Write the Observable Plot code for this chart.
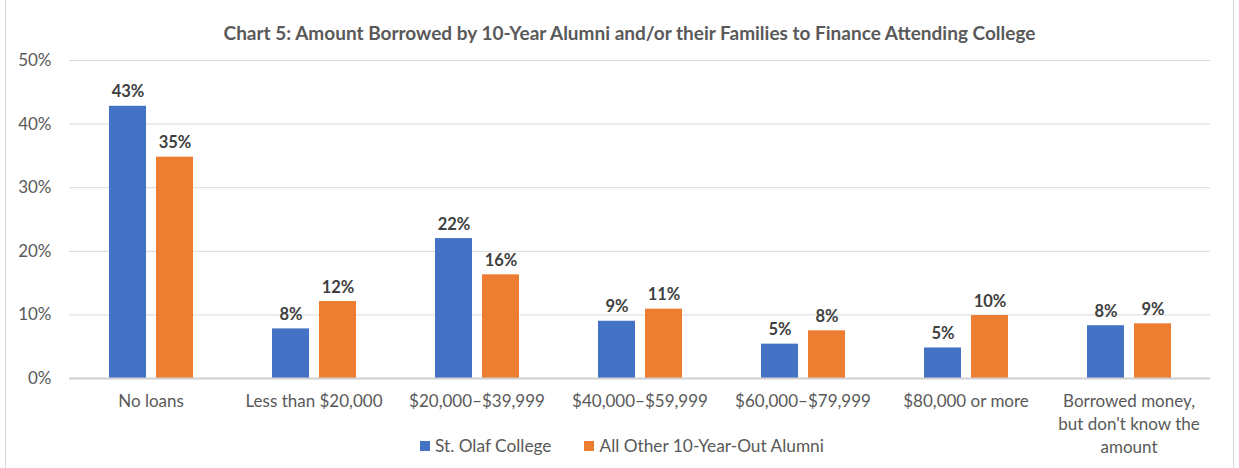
<!DOCTYPE html>
<html>
<head>
<meta charset="utf-8">
<script src="https://cdn.jsdelivr.net/npm/d3@7"></script>
<script src="https://cdn.jsdelivr.net/npm/@observablehq/plot@0.6"></script>
<style>
  html, body { margin: 0; padding: 0; background: #fff; }
  #wrap { position: relative; width: 1239px; height: 468px; overflow: hidden; font-family: Lato, "Open Sans", sans-serif; }
  #frame { position: absolute; left: 5px; top: -2px; width: 1227px; height: 480px; border-left: 1px solid #d9d9d9; border-right: 1px solid #d9d9d9; }
  #title { position: absolute; left: 10px; width: 1239px; top: 21px; text-align: center; font-weight: bold; font-size: 19px; color: #595959; }
  #chart { position: absolute; left: 0; top: 0; }
  #legend { position: absolute; top: 435px; left: 420px; font-size: 17.3px; color: #595959; display: flex; align-items: center; }
  .sw { display: inline-block; width: 10px; height: 10px; margin-right: 5px; }
  .item { display: flex; align-items: center; margin-right: 33px; }
</style>
</head>
<body>
<div id="wrap">
  <div id="frame"></div>
  <div id="chart"></div>
  <div id="title"></div>
  <div id="legend"></div>
</div>
<script>
const titleText = "Chart 5: Amount Borrowed by 10-Year Alumni and/or their Families to Finance Attending College";
const categories = ["No loans", "Less than $20,000", "$20,000–$39,999", "$40,000–$59,999", "$60,000–$79,999", "$80,000 or more", "Borrowed money, but don't know the amount"];
const categoryLabels = ["No loans", "Less than $20,000", "$20,000–$39,999", "$40,000–$59,999", "$60,000–$79,999", "$80,000 or more", "Borrowed money,\nbut don't know the\namount"];
const series = ["St. Olaf College", "All Other 10-Year-Out Alumni"];
const colors = ["#4472C4", "#ED7D31"];
const stOlaf = [42.8, 7.8, 22.0, 9.0, 5.4, 4.8, 8.3];
const others = [34.8, 12.1, 16.3, 10.9, 7.5, 9.9, 8.6];
const yTicks = [0, 10, 20, 30, 40, 50];

const data = [];
categories.forEach((c, i) => {
  data.push({category: c, series: series[0], value: stOlaf[i]});
  data.push({category: c, series: series[1], value: others[i]});
});
const labelMap = new Map(categories.map((c, i) => [c, categoryLabels[i]]));

document.getElementById("title").textContent = titleText;

const chart = Plot.plot({
  width: 1239,
  height: 468,
  marginTop: 60,
  marginBottom: 90,
  marginLeft: 68,
  marginRight: 29,
  style: {fontFamily: "Lato, 'Open Sans', sans-serif", fontSize: "17px", color: "#595959", background: "transparent"},
  fx: {domain: categories, padding: 0, label: null, axis: null},
  x: {domain: series, axis: null, paddingInner: 0.213, paddingOuter: 0.84},
  y: {domain: [0, 50], label: null, axis: null},
  color: {domain: series, range: colors},
  marks: [
    Plot.gridY(yTicks.filter(d => d > 0), {stroke: "#d9d9d9", strokeOpacity: 1, strokeWidth: 1}),
    Plot.axisY({ticks: yTicks, tickSize: 0, tickPadding: 18, tickFormat: d => d + "%", fontSize: 17, label: null}),
    Plot.axisFx({anchor: "bottom", tickSize: 0, tickPadding: 12, fontSize: 17, lineHeight: 1.35, tickFormat: d => labelMap.get(d), label: null}),
    Plot.barY(data, {fx: "category", x: "series", y: "value", fill: "series"}),
    Plot.text(data, {fx: "category", x: "series", y: "value", text: d => Math.round(d.value) + "%", lineAnchor: "bottom", dy: -9, fontWeight: "bold", fontSize: 16.5, fill: "#404040"}),
    Plot.ruleY([0], {stroke: "#d0d0d0", strokeWidth: 2})
  ]
});
document.getElementById("chart").appendChild(chart);

const legend = document.getElementById("legend");
series.forEach((s, i) => {
  const item = document.createElement("span");
  item.className = "item";
  const sw = document.createElement("span");
  sw.className = "sw";
  sw.style.background = colors[i];
  item.appendChild(sw);
  item.appendChild(document.createTextNode(s));
  legend.appendChild(item);
});
</script>
</body>
</html>
